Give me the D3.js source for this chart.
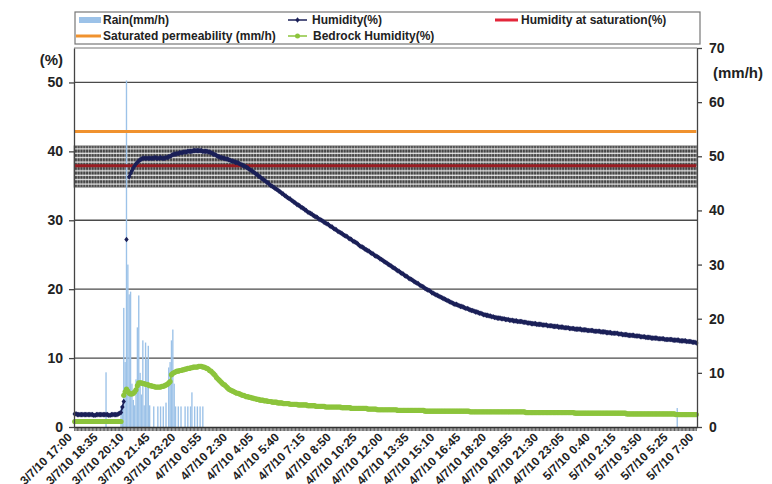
<!DOCTYPE html>
<html>
<head>
<meta charset="utf-8">
<script src="https://cdn.jsdelivr.net/npm/d3@7"></script>
<style>
  body { margin: 0; background: #fff; }
  svg { display: block; font-family: "Liberation Sans", Arial, sans-serif; font-weight: bold; }
</style>
</head>
<body>
<svg></svg>
<script>
// 5-minute readings from 3/7/10 17:00 to 5/7/10 7:00, one row per 95 minutes
const humidity = [
  1.9,1.9,1.8,1.8,1.8,1.8,1.8,1.8,1.8,1.8,1.8,1.8,1.8,1.8,1.7,1.7,1.8,1.8,1.8,
  1.8,1.8,1.8,1.8,1.8,1.8,1.7,1.7,1.8,1.8,1.8,1.8,1.8,1.9,2.0,2.1,2.9,3.7,null,
  27.2,null,36.3,36.8,37.2,37.6,37.9,38.2,38.4,38.6,38.8,38.9,39.0,39.0,39.0,39.0,39.0,39.0,39.0,
  39.0,39.0,39.1,39.0,39.0,39.0,39.1,39.0,39.0,39.0,39.1,39.1,39.2,39.3,39.4,39.5,39.6,39.6,39.7,
  39.7,39.8,39.8,39.8,39.9,39.9,39.9,40.0,40.0,40.0,40.0,40.1,40.1,40.1,40.1,40.1,40.1,40.1,40.0,
  40.0,40.0,40.0,39.9,39.9,39.8,39.7,39.6,39.5,39.4,39.3,39.2,39.1,39.1,39.0,39.0,38.9,38.9,38.8,
  38.7,38.6,38.6,38.5,38.4,38.4,38.3,38.2,38.1,38.0,37.9,37.8,37.7,37.6,37.4,37.3,37.2,37.0,36.9,
  36.7,36.6,36.4,36.3,36.1,36.0,35.8,35.7,35.5,35.4,35.2,35.0,34.9,34.8,34.6,34.5,34.4,34.2,34.1,
  33.9,33.8,33.6,33.5,33.3,33.2,33.1,32.9,32.8,32.6,32.5,32.3,32.2,32.1,31.9,31.8,31.7,31.5,31.4,
  31.2,31.1,31.0,30.9,30.7,30.6,30.5,30.4,30.2,30.1,30.0,29.9,29.7,29.6,29.5,29.4,29.2,29.1,29.0,
  28.8,28.7,28.6,28.4,28.3,28.2,28.1,27.9,27.8,27.7,27.6,27.4,27.3,27.2,27.0,26.9,26.8,26.7,26.5,
  26.3,26.2,26.1,26.0,25.8,25.7,25.6,25.5,25.3,25.2,25.1,24.9,24.8,24.7,24.6,24.4,24.3,24.2,24.0,
  23.9,23.8,23.6,23.5,23.4,23.2,23.1,23.0,22.8,22.7,22.6,22.4,22.3,22.2,22.0,21.9,21.8,21.6,21.5,
  21.4,21.3,21.1,21.0,20.9,20.8,20.6,20.5,20.4,20.3,20.1,20.0,19.9,19.8,19.7,19.5,19.4,19.3,19.2,
  19.1,19.0,18.9,18.8,18.7,18.6,18.5,18.4,18.3,18.2,18.1,18.0,17.9,17.8,17.8,17.7,17.6,17.5,17.5,
  17.4,17.3,17.2,17.2,17.1,17.0,16.9,16.9,16.8,16.7,16.7,16.6,16.5,16.5,16.4,16.3,16.3,16.2,16.2,
  16.1,16.1,16.0,16.0,15.9,15.9,15.8,15.8,15.8,15.7,15.7,15.7,15.6,15.6,15.6,15.5,15.5,15.5,15.4,
  15.4,15.4,15.3,15.3,15.3,15.3,15.2,15.2,15.2,15.1,15.1,15.1,15.0,15.0,15.0,15.0,14.9,14.9,14.9,
  14.9,14.8,14.8,14.8,14.8,14.7,14.7,14.7,14.7,14.6,14.6,14.6,14.6,14.5,14.5,14.5,14.5,14.4,14.4,
  14.4,14.4,14.3,14.3,14.3,14.3,14.2,14.2,14.2,14.2,14.2,14.1,14.1,14.1,14.1,14.0,14.0,14.0,14.0,
  14.0,13.9,13.9,13.9,13.9,13.9,13.8,13.8,13.8,13.8,13.7,13.7,13.7,13.7,13.6,13.6,13.6,13.6,13.6,
  13.5,13.5,13.5,13.4,13.4,13.4,13.4,13.3,13.3,13.3,13.3,13.3,13.2,13.2,13.2,13.2,13.1,13.1,13.1,
  13.1,13.0,13.0,13.0,13.0,12.9,12.9,12.9,12.9,12.9,12.8,12.8,12.8,12.8,12.8,12.7,12.7,12.7,12.7,
  12.7,12.7,12.6,12.6,12.6,12.6,12.6,12.5,12.5,12.5,12.5,12.5,12.4,12.4,12.4,12.4,12.3,12.3,12.3,
  12.2
];

const bedrock = [
  0.8,0.8,0.8,0.8,0.8,0.8,0.8,0.8,0.8,0.8,0.8,0.8,0.8,0.8,0.8,0.8,0.8,0.8,0.8,
  0.8,0.8,0.8,0.8,0.8,0.8,0.8,0.8,0.8,0.8,0.8,0.8,0.8,0.8,0.8,0.8,null,4.6,5.1,
  5.5,5.2,4.9,4.8,4.8,4.9,5.1,5.4,6.0,6.4,6.4,6.4,6.3,6.3,6.2,6.2,6.1,6.0,6.0,
  5.9,5.9,5.8,5.8,5.8,5.8,5.8,5.9,5.9,6.0,6.1,6.2,6.4,6.6,7.6,7.8,7.9,8.0,8.1,
  8.1,8.2,8.2,8.3,8.3,8.4,8.4,8.5,8.5,8.6,8.6,8.7,8.7,8.7,8.7,8.8,8.8,8.8,8.7,
  8.7,8.6,8.5,8.4,8.2,8.1,7.9,7.7,7.5,7.2,7.0,6.8,6.6,6.4,6.2,6.1,5.9,5.7,5.5,
  5.4,5.3,5.2,5.1,5.0,4.9,4.9,4.8,4.7,4.6,4.6,4.5,4.4,4.4,4.3,4.3,4.2,4.2,4.1,
  4.1,4.0,4.0,3.9,3.9,3.9,3.8,3.8,3.8,3.7,3.7,3.7,3.6,3.6,3.6,3.6,3.5,3.5,3.5,
  3.5,3.4,3.4,3.4,3.4,3.4,3.3,3.3,3.3,3.3,3.3,3.3,3.2,3.2,3.2,3.2,3.2,3.2,3.2,
  3.1,3.1,3.1,3.1,3.1,3.1,3.0,3.0,3.0,3.0,3.0,3.0,3.0,2.9,2.9,2.9,2.9,2.9,2.9,
  2.9,2.9,2.9,2.9,2.9,2.9,2.8,2.8,2.8,2.8,2.8,2.8,2.8,2.7,2.7,2.7,2.7,2.7,2.7,
  2.7,2.7,2.7,2.7,2.7,2.7,2.6,2.6,2.6,2.6,2.6,2.6,2.6,2.5,2.5,2.5,2.5,2.5,2.5,
  2.5,2.5,2.5,2.5,2.5,2.5,2.5,2.5,2.5,2.4,2.4,2.4,2.4,2.4,2.4,2.4,2.4,2.4,2.4,
  2.4,2.4,2.4,2.4,2.4,2.4,2.4,2.4,2.4,2.4,2.3,2.3,2.3,2.3,2.3,2.3,2.3,2.3,2.3,
  2.3,2.3,2.3,2.3,2.3,2.3,2.3,2.3,2.3,2.3,2.3,2.3,2.3,2.3,2.3,2.3,2.3,2.3,2.3,
  2.3,2.3,2.3,2.3,2.3,2.2,2.2,2.2,2.2,2.2,2.2,2.2,2.2,2.2,2.2,2.2,2.2,2.2,2.2,
  2.2,2.2,2.2,2.2,2.2,2.2,2.2,2.2,2.2,2.2,2.2,2.2,2.2,2.2,2.2,2.2,2.2,2.2,2.2,
  2.2,2.2,2.2,2.2,2.2,2.2,2.2,2.2,2.1,2.1,2.1,2.1,2.1,2.1,2.1,2.1,2.1,2.1,2.1,
  2.1,2.1,2.1,2.1,2.1,2.1,2.1,2.1,2.1,2.1,2.1,2.1,2.1,2.1,2.1,2.1,2.1,2.1,2.1,
  2.1,2.1,2.1,2.1,2.1,2.1,2.0,2.0,2.0,2.0,2.0,2.0,2.0,2.0,2.0,2.0,2.0,2.0,2.0,
  2.0,2.0,2.0,2.0,2.0,2.0,2.0,2.0,2.0,2.0,2.0,2.0,2.0,2.0,2.0,2.0,2.0,2.0,2.0,
  2.0,2.0,2.0,2.0,2.0,2.0,1.9,1.9,1.9,1.9,1.9,1.9,1.9,1.9,1.9,1.9,1.9,1.9,1.9,
  1.9,1.9,1.9,1.9,1.9,1.9,1.9,1.9,1.9,1.9,1.9,1.9,1.9,1.9,1.9,1.9,1.9,1.9,1.9,
  1.9,1.9,1.9,1.9,1.8,1.8,1.8,1.8,1.8,1.8,1.8,1.8,1.8,1.8,1.8,1.8,1.8,1.8,1.8,
  1.8
];

const rain = [
  0,0,0,0,0,0,0,0,0,0,0,0,0,0,0,0,0,0,0,
  0,0,0,0,10.1,0,0,0,0,0,0,0,0,0,0,3.9,3.9,22,12,
  64,30,24.5,25,8,5,4,8.8,18.4,24.3,10,6,16,4,15.6,12.5,15,4,0,
  0,3.8,0,0,3.8,0,3.8,0,3.8,0,4.5,0,11,12,16,18,8,3.8,0,
  3.8,0,3.8,0,0,3.8,0,3.8,0,3.8,6.4,0,3.8,0,3.8,0,3.8,0,3.8,
  0,0,0,0,0,0,0,0,0,0,0,0,0,0,0,0,0,0,0,
  0,0,0,0,0,0,0,0,0,0,0,0,0,0,0,0,0,0,0,
  0,0,0,0,0,0,0,0,0,0,0,0,0,0,0,0,0,0,0,
  0,0,0,0,0,0,0,0,0,0,0,0,0,0,0,0,0,0,0,
  0,0,0,0,0,0,0,0,0,0,0,0,0,0,0,0,0,0,0,
  0,0,0,0,0,0,0,0,0,0,0,0,0,0,0,0,0,0,0,
  0,0,0,0,0,0,0,0,0,0,0,0,0,0,0,0,0,0,0,
  0,0,0,0,0,0,0,0,0,0,0,0,0,0,0,0,0,0,0,
  0,0,0,0,0,0,0,0,0,0,0,0,0,0,0,0,0,0,0,
  0,0,0,0,0,0,0,0,0,0,0,0,0,0,0,0,0,0,0,
  0,0,0,0,0,0,0,0,0,0,0,0,0,0,0,0,0,0,0,
  0,0,0,0,0,0,0,0,0,0,0,0,0,0,0,0,0,0,0,
  0,0,0,0,0,0,0,0,0,0,0,0,0,0,0,0,0,0,0,
  0,0,0,0,0,0,0,0,0,0,0,0,0,0,0,0,0,0,0,
  0,0,0,0,0,0,0,0,0,0,0,0,0,0,0,0,0,0,0,
  0,0,0,0,0,0,0,0,0,0,0,0,0,0,0,0,0,0,0,
  0,0,0,0,0,0,0,0,0,0,0,0,0,0,0,0,0,0,0,
  0,0,0,0,0,0,0,0,0,0,0,0,0,0,0,0,0,0,0,
  0,0,0,0,0,3.5,0,0,0,0,0,0,0,0,0,0,0,0,0,
  0
];

const saturatedPermeability = 54.6; // mm/h, right axis
const saturationHumidity = 37.9;    // %, left axis
const hatchBand = [34.8, 40.8];     // %, dark hatched zone

const tickLabels = [
  '3/7/10 17:00','3/7/10 18:35','3/7/10 20:10','3/7/10 21:45','3/7/10 23:20',
  '4/7/10 0:55','4/7/10 2:30','4/7/10 4:05','4/7/10 5:40','4/7/10 7:15',
  '4/7/10 8:50','4/7/10 10:25','4/7/10 12:00','4/7/10 13:35','4/7/10 15:10',
  '4/7/10 16:45','4/7/10 18:20','4/7/10 19:55','4/7/10 21:30','4/7/10 23:05',
  '5/7/10 0:40','5/7/10 2:15','5/7/10 3:50','5/7/10 5:25','5/7/10 7:00'
];
const labelStep = 19;
const leftTicks = [0, 10, 20, 30, 40, 50];
const rightTicks = [0, 10, 20, 30, 40, 50, 60, 70];

const svgWidth = 772;
const svgHeight = 484;
const plot = { left: 74, right: 697, top: 48, bottom: 427 };

const svg = d3.select('svg')
    .attr('width', svgWidth)
    .attr('height', svgHeight);

const n = humidity.length;
const x = d3.scaleBand().domain(d3.range(n)).range([plot.left, plot.right]);
const cx = i => x(i) + x.bandwidth() / 2;
const yL = d3.scaleLinear().domain([0, 55]).range([plot.bottom, plot.top]);
const yR = d3.scaleLinear().domain([0, 70]).range([plot.bottom, plot.top]);

// hatch pattern for the saturation zone
const defs = svg.append('defs');
const pat = defs.append('pattern')
    .attr('id', 'hatch')
    .attr('patternUnits', 'userSpaceOnUse')
    .attr('x', plot.left).attr('y', yL(hatchBand[1]))
    .attr('width', 2.8).attr('height', 4.4);
pat.append('rect').attr('width', 2.8).attr('height', 4.4).attr('fill', '#444');
pat.append('rect').attr('width', 0.9).attr('height', 4.4).attr('fill', '#d0d0d0').attr('opacity', 0.6);
pat.append('rect').attr('y', 2.4).attr('width', 2.8).attr('height', 1.2).attr('fill', '#f6f6f6');

// gridlines
svg.append('g')
    .selectAll('line')
    .data(leftTicks.filter(d => d > 0))
    .join('line')
    .attr('x1', plot.left).attr('x2', plot.right)
    .attr('y1', d => yL(d)).attr('y2', d => yL(d))
    .attr('stroke', '#4a4a4a')
    .attr('stroke-width', 1.3);

svg.append('line')
    .attr('x1', plot.left).attr('x2', plot.right)
    .attr('y1', plot.top).attr('y2', plot.top)
    .attr('stroke', '#777');

// hatched zone
svg.append('rect')
    .attr('x', plot.left)
    .attr('y', yL(hatchBand[1]))
    .attr('width', plot.right - plot.left)
    .attr('height', yL(hatchBand[0]) - yL(hatchBand[1]))
    .attr('fill', 'url(#hatch)')
    .attr('stroke', '#888')
    .attr('stroke-width', 0.8);

// rain bars
svg.append('g')
    .selectAll('rect')
    .data(rain.map((v, i) => ({ v, i })).filter(d => d.v > 0))
    .join('rect')
    .attr('x', d => x(d.i))
    .attr('width', x.bandwidth())
    .attr('y', d => yR(d.v))
    .attr('height', d => yR(0) - yR(d.v))
    .attr('fill', '#9cc2e8');

// constant series
const flat = d3.line().x(d => d[0]).y(d => d[1]);
svg.append('path')
    .attr('d', flat([[cx(0), yR(saturatedPermeability)], [cx(n - 1), yR(saturatedPermeability)]]))
    .attr('stroke', '#f0922e')
    .attr('stroke-width', 3)
    .attr('fill', 'none');

svg.append('path')
    .attr('d', flat([[cx(0), yL(saturationHumidity)], [cx(n - 1), yL(saturationHumidity)]]))
    .attr('stroke', '#9a1c22')
    .attr('stroke-width', 3)
    .attr('fill', 'none');

// bedrock humidity
const line = d3.line()
    .defined(d => d != null)
    .x((d, i) => cx(i))
    .y(d => yL(d));

svg.append('path')
    .attr('d', line(bedrock))
    .attr('stroke', '#8cc43c')
    .attr('stroke-width', 1.5)
    .attr('fill', 'none');

svg.append('g')
    .selectAll('circle')
    .data(bedrock.map((v, i) => ({ v, i })).filter(d => d.v != null))
    .join('circle')
    .attr('cx', d => cx(d.i))
    .attr('cy', d => yL(d.v))
    .attr('r', 2.6)
    .attr('fill', '#8cc43c');

// humidity
svg.append('path')
    .attr('d', line(humidity))
    .attr('stroke', '#1b2058')
    .attr('stroke-width', 1.5)
    .attr('fill', 'none');

const diamond = 'M0,-2.8L2.2,0L0,2.8L-2.2,0Z';
svg.append('g')
    .selectAll('path')
    .data(humidity.map((v, i) => ({ v, i })).filter(d => d.v != null))
    .join('path')
    .attr('d', diamond)
    .attr('transform', d => `translate(${cx(d.i)},${yL(d.v)})`)
    .attr('fill', '#1b2058');

// axes
const leftAxis = svg.append('g')
    .attr('transform', `translate(${plot.left},0)`)
    .call(d3.axisLeft(yL).tickValues(leftTicks).tickSize(5).tickSizeOuter(0).tickPadding(6));

const rightAxis = svg.append('g')
    .attr('transform', `translate(${plot.right},0)`)
    .call(d3.axisRight(yR).tickValues(rightTicks).tickSize(5).tickSizeOuter(0).tickPadding(7));

[leftAxis, rightAxis].forEach(a => {
    a.select('.domain').attr('stroke', '#444').attr('stroke-width', 1.3);
    a.selectAll('.tick line').attr('stroke', '#444').attr('stroke-width', 1.3);
    a.selectAll('text')
        .attr('font-size', '14px')
        .attr('font-family', '"Liberation Sans", Arial, sans-serif')
        .attr('font-weight', 'bold')
        .attr('fill', '#222');
});

const bottomAxis = svg.append('g')
    .attr('transform', `translate(0,${plot.bottom})`)
    .call(d3.axisBottom(x).tickSize(4).tickSizeOuter(0).tickFormat(''));
bottomAxis.select('.domain').attr('stroke', '#333').attr('stroke-width', 1.3);
bottomAxis.selectAll('.tick line').attr('stroke', '#333').attr('stroke-width', 0.8);

svg.append('g')
    .selectAll('text')
    .data(tickLabels)
    .join('text')
    .attr('transform', (d, k) => `translate(${cx(k * labelStep) - 5},${plot.bottom + 8}) rotate(-45)`)
    .attr('text-anchor', 'end')
    .attr('dy', '0.35em')
    .attr('font-size', '12px')
    .attr('fill', '#222')
    .text(d => d);

// axis units
svg.append('text')
    .attr('x', 63).attr('y', 65)
    .attr('text-anchor', 'end')
    .attr('font-size', '15px')
    .attr('fill', '#222')
    .text('(%)');

svg.append('text')
    .attr('x', 713).attr('y', 78)
    .attr('font-size', '15px')
    .attr('fill', '#222')
    .text('(mm/h)');

// legend
const legend = svg.append('g');
legend.append('rect')
    .attr('x', 75).attr('y', 12)
    .attr('width', 625).attr('height', 32)
    .attr('fill', '#fff')
    .attr('stroke', '#777')
    .attr('stroke-width', 1.2);

const row1 = 20, row2 = 36;
legend.append('rect').attr('x', 79).attr('y', row1 - 3).attr('width', 22).attr('height', 6).attr('fill', '#9cc2e8');
legend.append('line').attr('x1', 76).attr('x2', 101).attr('y1', row2).attr('y2', row2).attr('stroke', '#f0922e').attr('stroke-width', 3);
legend.append('line').attr('x1', 288).attr('x2', 307).attr('y1', row1).attr('y2', row1).attr('stroke', '#1b2058').attr('stroke-width', 1.5);
legend.append('path').attr('d', diamond).attr('transform', `translate(297.5,${row1})`).attr('fill', '#1b2058');
legend.append('line').attr('x1', 288).attr('x2', 307).attr('y1', row2).attr('y2', row2).attr('stroke', '#8cc43c').attr('stroke-width', 1.5);
legend.append('circle').attr('cx', 297.5).attr('cy', row2).attr('r', 2.5).attr('fill', '#8cc43c');
legend.append('line').attr('x1', 495).attr('x2', 518).attr('y1', row1).attr('y2', row1).attr('stroke', '#e3263a').attr('stroke-width', 3);

const legendItems = [
    { label: 'Rain(mm/h)', x: 103, y: row1 },
    { label: 'Humidity(%)', x: 312, y: row1 },
    { label: 'Humidity at saturation(%)', x: 521, y: row1 },
    { label: 'Saturated permeability (mm/h)', x: 103, y: row2 },
    { label: 'Bedrock Humidity(%)', x: 313, y: row2 }
];
legend.selectAll('text.lg')
    .data(legendItems)
    .join('text')
    .attr('class', 'lg')
    .attr('x', d => d.x)
    .attr('y', d => d.y)
    .attr('dy', '0.35em')
    .attr('font-size', '12px')
    .attr('fill', '#222')
    .text(d => d.label);
</script>
</body>
</html>
